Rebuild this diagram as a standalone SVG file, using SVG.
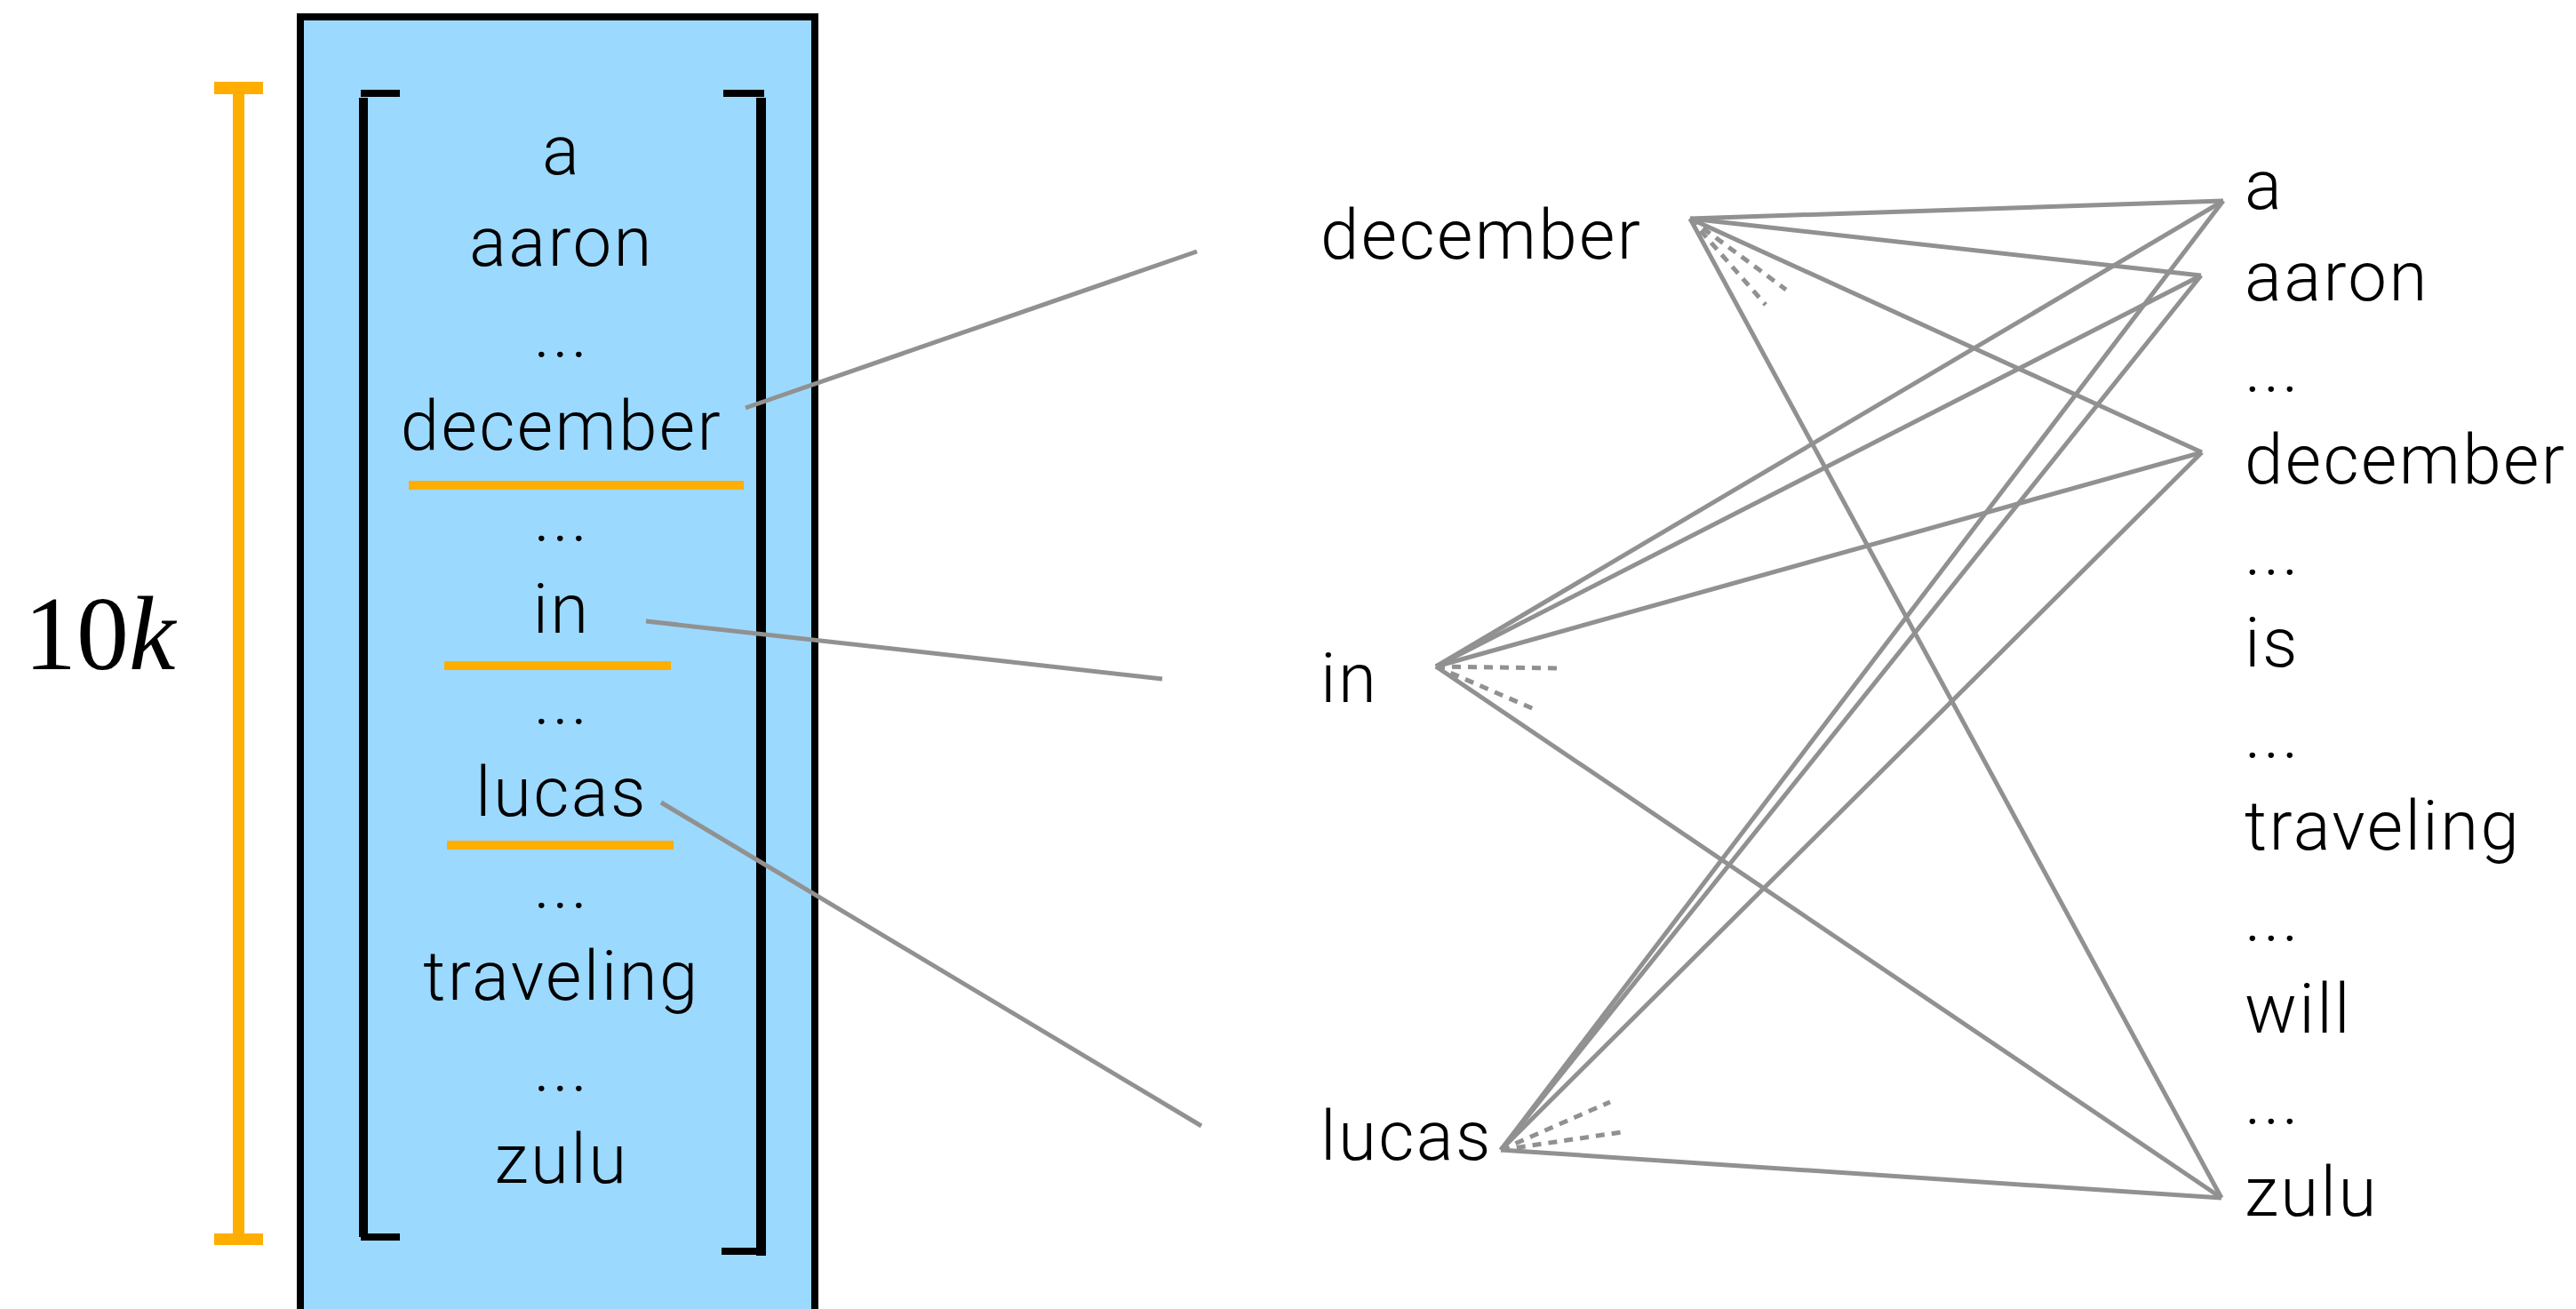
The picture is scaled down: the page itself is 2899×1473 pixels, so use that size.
<svg xmlns="http://www.w3.org/2000/svg" width="2899" height="1473" viewBox="0 0 2899 1473">
  <style>
    .word { font-family: Roboto, "Open Sans", sans-serif; font-weight: 300; font-size: 78px; letter-spacing: 2.4px; fill: #000; }
    .mid { text-anchor: middle; }
    .edge { stroke: #919191; stroke-width: 5; fill: none; stroke-linecap: butt; }
    .edge-dash { stroke: #919191; stroke-width: 5; fill: none; stroke-dasharray: 10 8; }
    .ink { fill: #000; }
    .accent { fill: #ffae00; }
    .math { font-family: "Liberation Serif", "Times New Roman", serif; font-size: 118px; fill: #000; }
  </style>

  <rect width="2899" height="1473" fill="#fff"/>

  <!-- size bracket: 10k -->
  <g id="size-bar">
    <rect class="accent" x="262" y="100" width="13" height="1294"/>
    <rect class="accent" x="241" y="92" width="55" height="14"/>
    <rect class="accent" x="241" y="1388" width="55" height="13"/>
    <text class="math" x="27" y="753">10<tspan font-style="italic">k</tspan></text>
  </g>

  <!-- vocabulary vector -->
  <g id="vocab-vector">
    <rect x="338" y="19" width="579" height="1470" fill="#9cd9fe" stroke="#000" stroke-width="8"/>
    <!-- left bracket -->
    <rect class="ink" x="404" y="110" width="10" height="1282"/>
    <rect class="ink" x="406" y="101" width="44" height="8"/>
    <rect class="ink" x="406" y="1388" width="44" height="8"/>
    <!-- right bracket -->
    <rect class="ink" x="851" y="110" width="11" height="1303"/>
    <rect class="ink" x="814" y="101" width="46" height="8"/>
    <rect class="ink" x="812" y="1404" width="49" height="8"/>

    <text class="word mid" x="632" y="196">a</text>
    <text class="word mid" x="632" y="299">aaron</text>
    <text class="word mid" x="632" y="402">...</text>
    <text class="word mid" x="632" y="506">december</text>
    <text class="word mid" x="632" y="609">...</text>
    <text class="word mid" x="632" y="712">in</text>
    <text class="word mid" x="632" y="815">...</text>
    <text class="word mid" x="632" y="918">lucas</text>
    <text class="word mid" x="632" y="1022">...</text>
    <text class="word mid" x="632" y="1125">traveling</text>
    <text class="word mid" x="632" y="1228">...</text>
    <text class="word mid" x="632" y="1331">zulu</text>

    <!-- highlighted entries -->
    <rect class="accent" x="460" y="541" width="377" height="10"/>
    <rect class="accent" x="500" y="744" width="255" height="10"/>
    <rect class="accent" x="503" y="946" width="255" height="10"/>
  </g>

  <!-- selected words -->
  <g id="node-december"><text class="word" x="1486" y="291">december</text></g>
  <g id="node-in"><text class="word" x="1486" y="790">in</text></g>
  <g id="node-lucas"><text class="word" x="1486" y="1305">lucas</text></g>

  <!-- output vocabulary -->
  <g id="out-a"><text class="word" x="2526" y="235">a</text></g>
  <g id="out-aaron"><text class="word" x="2526" y="338">aaron</text></g>
  <g id="out-gap1"><text class="word" x="2526" y="441">...</text></g>
  <g id="out-december"><text class="word" x="2526" y="544">december</text></g>
  <g id="out-gap2"><text class="word" x="2526" y="647">...</text></g>
  <g id="out-is"><text class="word" x="2526" y="750">is</text></g>
  <g id="out-gap3"><text class="word" x="2526" y="853">...</text></g>
  <g id="out-traveling"><text class="word" x="2526" y="956">traveling</text></g>
  <g id="out-gap4"><text class="word" x="2526" y="1059">...</text></g>
  <g id="out-will"><text class="word" x="2526" y="1162">will</text></g>
  <g id="out-gap5"><text class="word" x="2526" y="1265">...</text></g>
  <g id="out-zulu"><text class="word" x="2526" y="1368">zulu</text></g>

  <g id="connectors">
    <!-- vector entries to selected words -->
    <line class="edge" x1="839" y1="459" x2="1347" y2="283"/>
    <line class="edge" x1="727" y1="699" x2="1308" y2="764"/>
    <line class="edge" x1="744" y1="903" x2="1352" y2="1267"/>

    <!-- december -->
    <line class="edge" x1="1902" y1="246" x2="2502" y2="226"/>
    <line class="edge" x1="1902" y1="246" x2="2477" y2="310"/>
    <line class="edge" x1="1902" y1="246" x2="2478" y2="509"/>
    <line class="edge" x1="1902" y1="246" x2="2500" y2="1348"/>
    <line class="edge-dash" x1="1902" y1="246" x2="2010" y2="326"/>
    <line class="edge-dash" x1="1902" y1="246" x2="1987" y2="343"/>

    <!-- in -->
    <line class="edge" x1="1616" y1="750" x2="2502" y2="226"/>
    <line class="edge" x1="1616" y1="750" x2="2477" y2="310"/>
    <line class="edge" x1="1616" y1="750" x2="2478" y2="509"/>
    <line class="edge" x1="1616" y1="750" x2="2500" y2="1348"/>
    <line class="edge-dash" x1="1616" y1="750" x2="1759" y2="752"/>
    <line class="edge-dash" x1="1616" y1="750" x2="1731" y2="800"/>

    <!-- lucas -->
    <line class="edge" x1="1689" y1="1294" x2="2502" y2="226"/>
    <line class="edge" x1="1689" y1="1294" x2="2477" y2="310"/>
    <line class="edge" x1="1689" y1="1294" x2="2478" y2="509"/>
    <line class="edge" x1="1689" y1="1294" x2="2500" y2="1348"/>
    <line class="edge-dash" x1="1689" y1="1294" x2="1812" y2="1240"/>
    <line class="edge-dash" x1="1689" y1="1294" x2="1825" y2="1274"/>
  </g>
</svg>
